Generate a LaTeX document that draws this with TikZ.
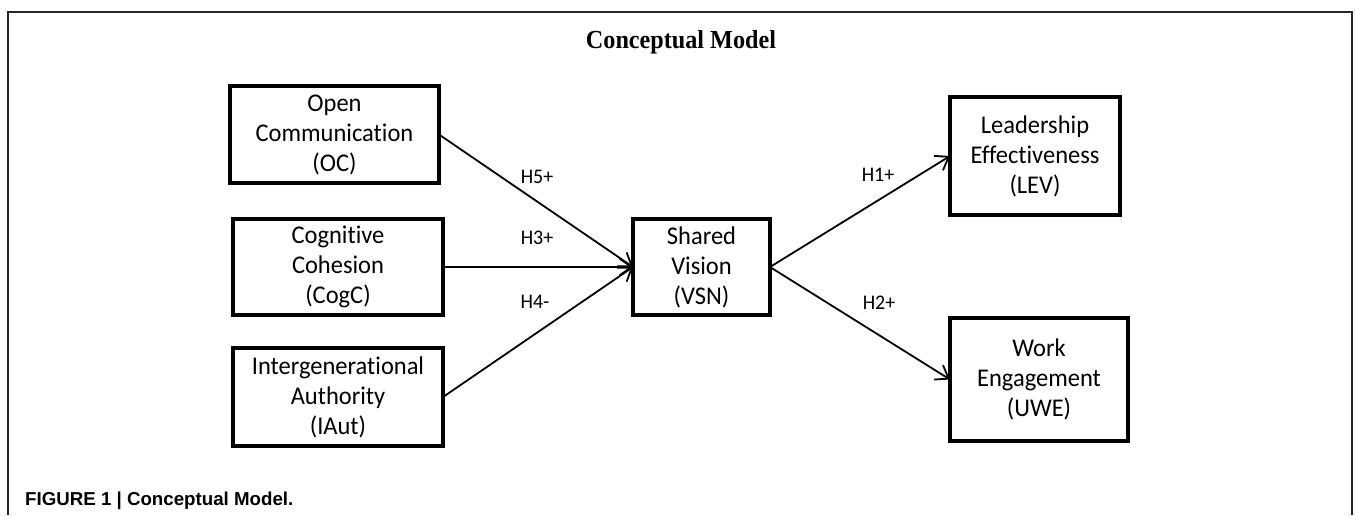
\documentclass[tikz,border=0pt]{standalone}
\usepackage{fontspec}
\setmainfont{Carlito}[Ligatures=NoCommon, FakeStretch=0.96]
\newfontfamily\titlefont{Liberation Serif}[FakeStretch=0.93]
\newfontfamily\capfont{Liberation Sans}
\usetikzlibrary{arrows.meta}
\tikzset{
  box/.style={draw, line width=4pt, align=center, inner sep=0pt, outer sep=0pt,
    font=\fontsize{25.5}{30}\selectfont},
  conn/.style={line width=1.8pt, -{Straight Barb[length=12pt,width=17pt]}},
  hlab/.style={anchor=base, inner sep=0pt, font=\fontsize{20.8}{24}\selectfont},
  frame/.style={line width=1.2pt, draw=black!85},
}
\begin{document}
\begin{tikzpicture}[x=1pt,y=-1pt]
\useasboundingbox (0,0) rectangle (1355,515);
\draw[frame] (8,515) -- (8,12) -- (1352,12) -- (1352,515);

\node[anchor=base, inner sep=0pt, font=\titlefont\bfseries\fontsize{26}{28}\selectfont] (title) at (681,48) {Conceptual Model};

\node[box, minimum width=209pt, minimum height=97pt] (oc) at (334.5,134.5) {Open\\Communication\\(OC)};
\node[box, minimum width=210pt, minimum height=96pt] (cogc) at (338,267) {Cognitive\\Cohesion\\(CogC)};
\node[box, minimum width=210pt, minimum height=98pt] (iaut) at (338,397) {Intergenerational\\Authority\\(IAut)};
\node[box, minimum width=137pt, minimum height=96pt] (vsn) at (701.5,267) {Shared\\Vision\\(VSN)};
\node[box, minimum width=170pt, minimum height=118pt] (lev) at (1035,156) {Leadership\\Effectiveness\\(LEV)};
\node[box, minimum width=178pt, minimum height=123pt] (uwe) at (1039,379.5) {Work\\Engagement\\(UWE)};

\draw[conn] (oc.east) -- (vsn.west);
\draw[conn] (cogc.east) -- (vsn.west);
\draw[conn] (iaut.east) -- (vsn.west);
\draw[conn] (vsn.east) -- (lev.west);
\draw[conn] (vsn.east) -- (uwe.west);

\node[hlab] (h5) at (537,183) {H5+};
\node[hlab] (h3) at (537,244) {H3+};
\node[hlab] (h4) at (535,308) {H4-};
\node[hlab] (h1) at (878,181) {H1+};
\node[hlab] (h2) at (879,309) {H2+};

\node[anchor=base west, inner sep=0pt, font=\capfont\bfseries\fontsize{18.7}{20}\selectfont] (cap) at (25,505) {FIGURE 1 | Conceptual Model.};
\end{tikzpicture}
\end{document}
